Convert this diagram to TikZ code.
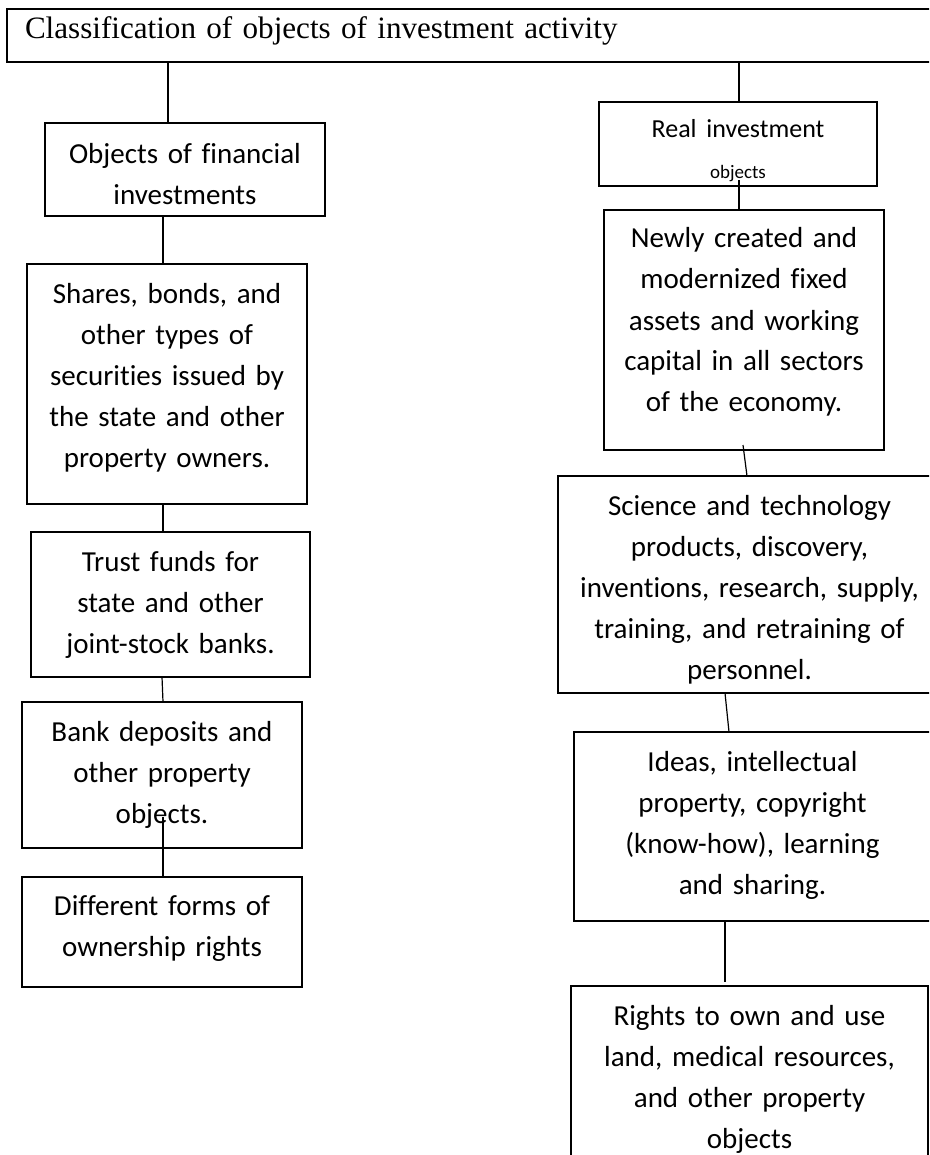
\documentclass[tikz,border=0pt]{standalone}
\usepackage{fontspec}
\setmainfont{Carlito}[Ligatures={NoCommon}]
\newfontfamily\titlefont{Liberation Serif}

\begin{document}
\begin{tikzpicture}[x=1pt,y=-1pt,line width=1.2pt,
		base box/.style={draw,rectangle,line width=1.3pt,inner sep=0pt,outer sep=0pt,anchor=north west,align=center,font=\fontsize{29}{41}\selectfont},
		head box/.style={draw,rectangle,line width=2pt,inner xsep=18pt,inner ysep=0pt,outer sep=0pt,anchor=north west,align=left,font=\titlefont\fontsize{31.1}{38}\selectfont}]
		\useasboundingbox (0,0) rectangle (929,1155);
		\clip (0,0) rectangle (929,1155);
		\node[head box,text width=897pt,text height=30pt,text depth=23pt] (cls) at (7,9) {Classification of objects of investment activity};
		\node[base box,text width=280pt,text height=41pt,text depth=52pt] (fin) at (45,123) {Objects of financial\\investments};
		\node[base box,text width=280pt,text height=39pt,text depth=201pt] (shares) at (27,264) {Shares, bonds, and\\other types of\\securities issued by\\the state and other\\property owners.};
		\node[base box,text width=279pt,text height=39pt,text depth=106pt] (trust) at (31,532) {Trust funds for\\state and other\\joint-stock banks.};
		\node[base box,text width=280pt,text height=39pt,text depth=107pt] (bank) at (22,702) {Bank deposits and\\other property\\objects.};
		\node[base box,text width=280pt,text height=38pt,text depth=72pt] (forms) at (22,877) {Different forms of\\ownership rights};
		\node[base box,text width=278pt,text height=36pt,text depth=48pt] (real) at (599,102) {\fontsize{26}{35}\selectfont Real investment\\\fontsize{19}{35}\selectfont objects};
		\node[base box,text width=280pt,text height=38pt,text depth=202pt] (newly) at (604,210) {Newly created and\\modernized fixed\\assets and working\\capital in all sectors\\of the economy.};
		\node[base box,text width=383pt,text height=39pt,text depth=178pt] (sci) at (558,476) {Science and technology\\products, discovery,\\inventions, research, supply,\\training, and retraining of\\personnel.};
		\node[base box,text width=357pt,text height=39pt,text depth=150pt] (ideas) at (574,732) {Ideas, intellectual\\property, copyright\\(know-how), learning\\and sharing.};
		\node[base box,text width=357pt,text height=39pt,text depth=145pt] (rights) at (571,986) {Rights to own and use\\land, medical resources,\\and other property\\objects};
		\draw ([xshift=-17pt]fin.north) -- ([xshift=-17pt]fin.north |- cls.south);
		\draw ([xshift=-4pt]shares.north) -- ([xshift=-4pt]shares.north |- fin.south);
		\draw ([xshift=-7.5pt]trust.north) -- ([xshift=-7.5pt]trust.north |- shares.south);
		\draw ([xshift=-8.5pt]trust.south) -- ([xshift=1pt]bank.north);
		\draw ([xshift=1pt,yshift=31pt]bank.south) -- ([xshift=1pt]forms.north);
		\draw ([xshift=1pt]real.north) -- ([xshift=1pt]real.north |- cls.south);
		\draw ([xshift=1pt,yshift=6pt]real.south) -- ([xshift=-5pt]newly.north);
		\draw ([xshift=-1pt,yshift=5pt]newly.south) -- ([xshift=-2.5pt]sci.north);
		\draw ([xshift=-24.5pt]sci.south) -- ([xshift=-23.5pt]ideas.north);
		\draw ([xshift=-27.5pt]ideas.south) -- ([xshift=-24.5pt,yshift=4pt]rights.north);
\end{tikzpicture}
\end{document}
